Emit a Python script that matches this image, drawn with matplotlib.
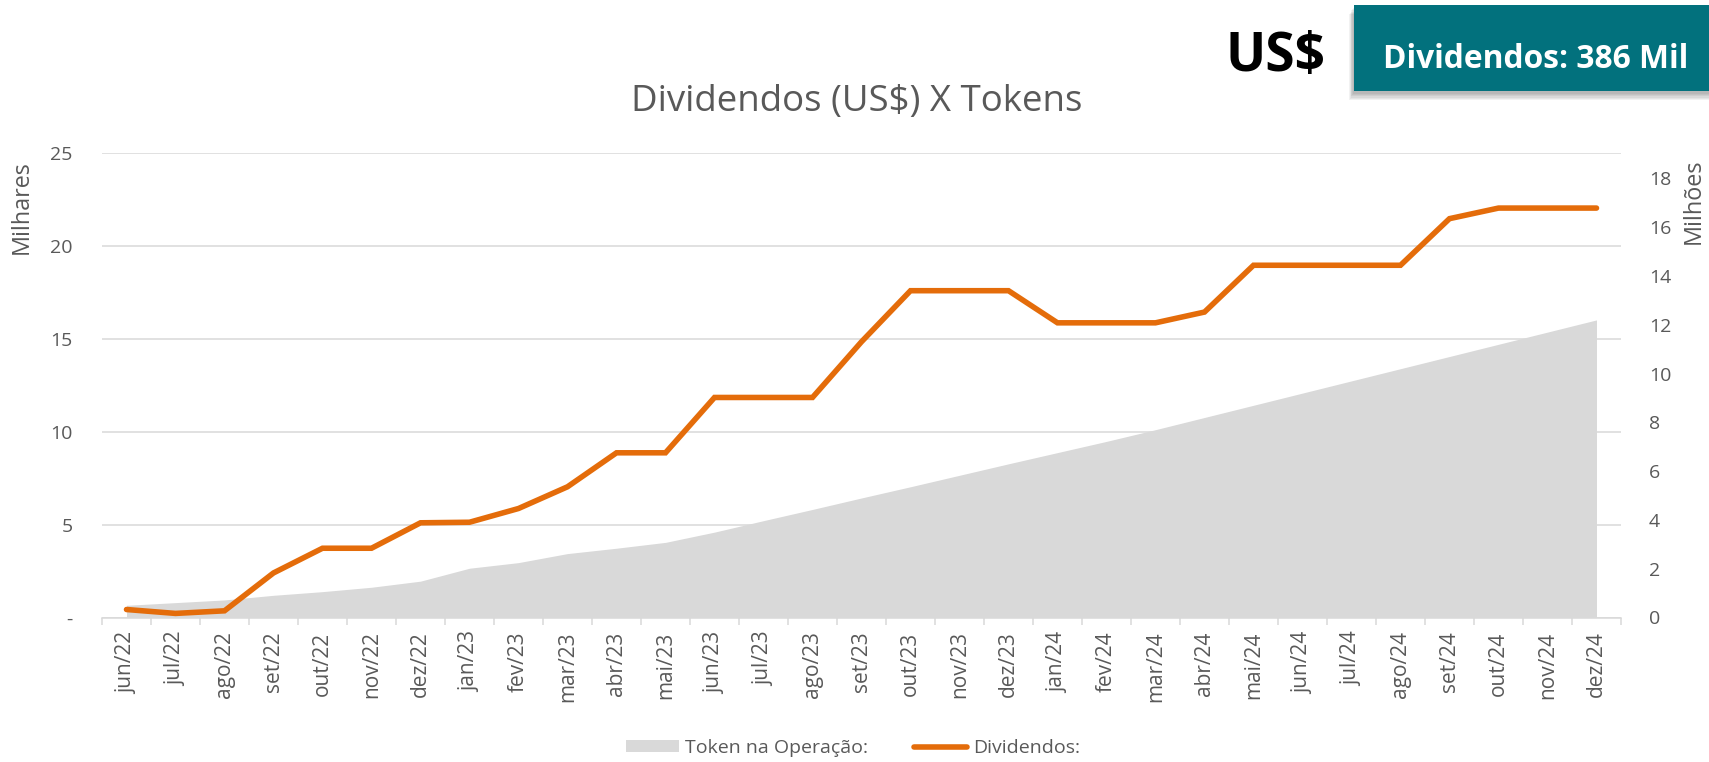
import matplotlib
matplotlib.use('Agg')
import matplotlib.pyplot as plt
from matplotlib.patches import Rectangle, Patch
from matplotlib.lines import Line2D
from matplotlib.ticker import FuncFormatter, MultipleLocator

plt.rcParams['font.family'] = ['Open Sans', 'DejaVu Sans']

# ---------------- data ----------------
meses = ['jun/22', 'jul/22', 'ago/22', 'set/22', 'out/22', 'nov/22', 'dez/22',
         'jan/23', 'fev/23', 'mar/23', 'abr/23', 'mai/23', 'jun/23', 'jul/23',
         'ago/23', 'set/23', 'out/23', 'nov/23', 'dez/23', 'jan/24', 'fev/24',
         'mar/24', 'abr/24', 'mai/24', 'jun/24', 'jul/24', 'ago/24', 'set/24',
         'out/24', 'nov/24', 'dez/24']

# Dividendos (US$, milhares) - left axis
dividendos = [0.43, 0.22, 0.36, 2.40, 3.73, 3.73, 5.10, 5.13, 5.87, 7.04,
              8.87, 8.87, 11.85, 11.85, 11.85, 14.85, 17.60, 17.60, 17.60,
              15.87, 15.87, 15.87, 16.45, 18.97, 18.97, 18.97, 18.97, 21.48,
              22.05, 22.05, 22.05]

# Token na Operação (milhões) - right axis
tokens = [0.50, 0.61, 0.72, 0.91, 1.06, 1.24, 1.49, 2.02, 2.25, 2.62, 2.84,
          3.08, 3.50, 3.97, 4.43, 4.90, 5.36, 5.83, 6.30, 6.76, 7.22, 7.70,
          8.20, 8.70, 9.20, 9.70, 10.20, 10.70, 11.20, 11.70, 12.20]

titulo = 'Dividendos (US$) X Tokens'
rotulo_esq = 'Milhares'
rotulo_dir = 'Milhões'
nome_area = 'Token na Operação:'
nome_linha = 'Dividendos:'
caixa_texto = 'Dividendos: 386 Mil'
moeda = 'US$'

# ---------------- style ----------------
TXT = '#595959'
GRID = '#D9D9D9'
AREA = '#D9D9D9'
ORANGE = '#E46C0A'
TEAL = '#02717D'

W, H = 1709, 762
fig = plt.figure(figsize=(W / 100, H / 100), dpi=100)

x0p, x1p, y0p, y1p = 102, 1621, 617.5, 153.3
rect = [x0p / W, 1 - y0p / H, (x1p - x0p) / W, (y0p - y1p) / H]

ax = fig.add_axes(rect)
ax.set_zorder(0)
x = list(range(len(meses)))
ax.set_xlim(-0.5, len(meses) - 0.5)
ax.set_ylim(0, 25)
ax.yaxis.set_major_locator(MultipleLocator(5))
ax.yaxis.set_major_formatter(FuncFormatter(lambda v, p: '-' if abs(v) < 1e-9 else f'{v:.0f}'))
ax.grid(axis='y', color=GRID, lw=1.1)
ax.set_xticks(x)
ax.set_xticklabels(meses, rotation=90)
ax.set_xticks([i - 0.5 for i in range(len(meses) + 1)], minor=True)
ax.tick_params(axis='x', which='major', length=0, pad=10, labelsize=15, labelcolor=TXT)
ax.tick_params(axis='x', which='minor', length=5, width=1.1, color=GRID)
ax.tick_params(axis='y', length=0, pad=21, labelsize=14, labelcolor=TXT)
for s in ['top', 'left', 'right']:
    ax.spines[s].set_visible(False)
ax.spines['bottom'].set_color(GRID)
ax.spines['bottom'].set_linewidth(1.1)

# area on secondary axis
ax2 = ax.twinx()
ax2.set_zorder(1)
ax2.patch.set_visible(False)
ax2.set_ylim(0, 19.03)
ax2.yaxis.set_major_locator(MultipleLocator(2))
ax2.yaxis.set_major_formatter(FuncFormatter(lambda v, p: f'{v:.0f}'))
ax2.fill_between(x, tokens, 0, color=AREA, lw=0)
ax2.tick_params(axis='y', length=0, pad=20, labelsize=14, labelcolor=TXT)
for s in ax2.spines.values():
    s.set_visible(False)

# line on top, same scale as left axis
ax3 = ax.twinx()
ax3.set_zorder(2)
ax3.set_ylim(ax.get_ylim())
ax3.axis('off')
ax3.plot(x, dividendos, color=ORANGE, lw=4.0, solid_capstyle='round',
         solid_joinstyle='miter')

# texts
t_title = fig.text(857 / W, 1 - 111 / H, titulo, ha='center', va='baseline',
                   fontsize=26, color=TXT)
t_l = fig.text(21.5 / W, 1 - 207 / H, rotulo_esq, rotation=90, ha='center',
               va='center', fontsize=16, color=TXT)
t_r = fig.text(1694 / W, 1 - 201 / H, rotulo_dir, rotation=90, ha='center',
               va='center', fontsize=16, color=TXT)

# teal box with shadow
bx0, by0, by1 = 1354, 91, 5
for k in range(6):
    fig.patches.append(Rectangle(((bx0 - 1 - k * 0.8) / W, 1 - (by0 + 3 + k * 1.2) / H),
                                 (W - bx0 + 10) / W, (by0 - by1) / H,
                                 transform=fig.transFigure, color='black',
                                 alpha=0.05, lw=0, zorder=1))
fig.patches.append(Rectangle((bx0 / W, 1 - by0 / H), (W - bx0 + 5) / W, (by0 - by1) / H,
                             transform=fig.transFigure, color=TEAL, lw=0, zorder=2))
t_box = fig.text(1535.5 / W, 1 - 68.3 / H, caixa_texto, ha='center', va='baseline',
                 fontsize=24, fontweight='bold', color='white', zorder=3)
t_us = fig.text(1275 / W, 1 - 71.5 / H, moeda, ha='center', va='baseline',
                fontsize=36, fontweight='bold', color='black')

# legend
h_area = Patch(facecolor=AREA, edgecolor='none')
h_line = Line2D([], [], color=ORANGE, lw=4.0, solid_capstyle='round')
leg = fig.legend([h_area, h_line], [nome_area, nome_linha], loc='center',
                 bbox_to_anchor=(853 / W, 1 - 748 / H), ncol=2, frameon=False,
                 fontsize=14, handlelength=2.73, handleheight=0.55,
                 handletextpad=0.3, columnspacing=2.4, borderpad=0)
for t in leg.get_texts():
    t.set_color(TXT)


def fit(t, target, rotated=False):
    fig.canvas.draw()
    r = fig.canvas.get_renderer()
    bb = t.get_window_extent(r)
    cur = bb.height if rotated else bb.width
    t.set_fontsize(t.get_fontsize() * target / cur)


fit(t_title, 452)
fit(t_box, 305)
fit(t_us, 100)
fit(t_l, 94, rotated=True)
fit(t_r, 86, rotated=True)

fig.savefig('out.png', dpi=100)
